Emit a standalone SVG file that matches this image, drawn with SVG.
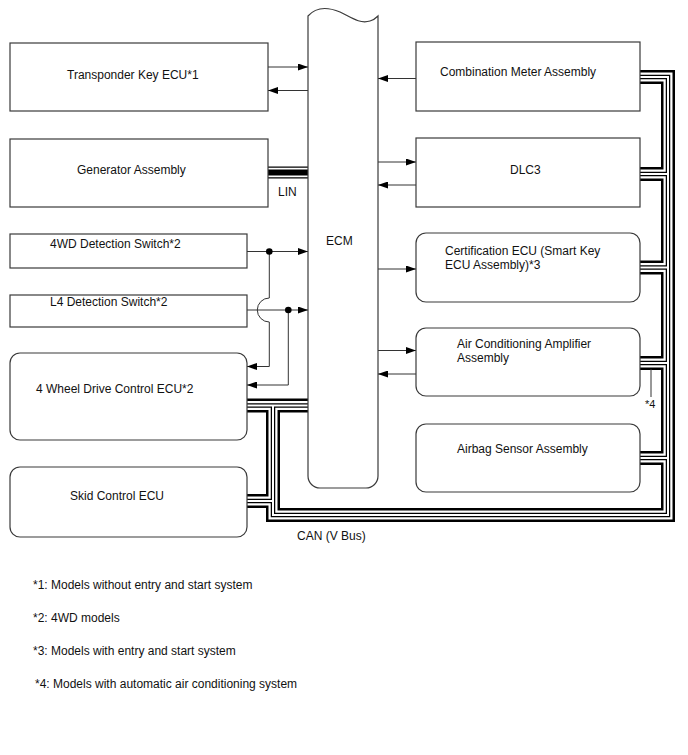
<svg xmlns="http://www.w3.org/2000/svg" xmlns:xlink="http://www.w3.org/1999/xlink" width="688" height="755" viewBox="0 0 688 755">
<style>
  .box { fill: #fff; stroke: #3a3a3a; stroke-width: 1.2; }
  .t { font-family: "Liberation Sans", Arial, sans-serif; font-size: 12px; fill: #111; }
  .ar { fill: none; stroke: #333; stroke-width: 1; marker-end: url(#ah); }
  .ln { fill: none; stroke: #333; stroke-width: 1; }
  .dot { fill: #000; }
</style>
<defs>
  <marker id="ah" markerUnits="userSpaceOnUse" markerWidth="10" markerHeight="7" refX="10" refY="3.5" orient="auto">
    <path d="M0,0 L10,3.5 L0,7 z" fill="#000"/>
  </marker>
  <g id="can" fill="none">
    <path d="M247,405.5 H308"/>
    <path d="M273,405.5 V515 H668 V77 H640"/>
    <path d="M247,501 H273"/>
    <path d="M640,174 H668"/>
    <path d="M640,267.5 H668"/>
    <path d="M640,363 H668"/>
    <path d="M640,458 H668"/>
  </g>
</defs>

<g id="connectors">
  <!-- CAN bus -->
  <use xlink:href="#can" stroke="#000" stroke-width="14" stroke-linejoin="miter"/>
  <use xlink:href="#can" stroke="#fff" stroke-width="9" stroke-linejoin="miter"/>
  <use xlink:href="#can" stroke="#000" stroke-width="4.5" stroke-linejoin="miter"/>
  <use xlink:href="#can" stroke="#fff" stroke-width="2" stroke-linejoin="miter"/>
  <!-- LIN -->
  <path d="M268,172.5 H308" stroke="#000" stroke-width="12" fill="none"/>
  <path d="M268,172.5 H308" stroke="#fff" stroke-width="9.5" fill="none"/>
  <path d="M268,172.5 H308" stroke="#000" stroke-width="6" fill="none"/>
  <!-- Transponder -->
  <path class="ar" d="M268,67 H308"/>
  <path class="ar" d="M308,90.5 H268"/>
  <!-- Combination meter -->
  <path class="ar" d="M416,78.5 H378"/>
  <!-- DLC3 -->
  <path class="ar" d="M378,162 H416"/>
  <path class="ar" d="M416,185 H378"/>
  <!-- Certification -->
  <path class="ar" d="M378,269 H416"/>
  <!-- A/C -->
  <path class="ar" d="M378,350.5 H416"/>
  <path class="ar" d="M416,374 H378"/>
  <!-- 4WD switch -->
  <path class="ar" d="M247,251.5 H308"/>
  <path class="ln" d="M269.3,251.5 V298 A12,12 0 0 0 269.3,322 V366.5"/>
  <path class="ar" d="M269.3,366.5 H247"/>
  <circle class="dot" cx="269.3" cy="251.5" r="3.3"/>
  <!-- L4 switch -->
  <path class="ar" d="M247,310 H308"/>
  <path class="ln" d="M288.3,310 V385"/>
  <path class="ar" d="M288.3,385 H247"/>
  <circle class="dot" cx="288.3" cy="310" r="3.3"/>
  <!-- *4 leader -->
  <path class="ln" d="M651,369 V397"/>
</g>

<g id="ecm">
  <path class="box" d="M308,16 C316,7 328,7 340,12 C352,18 360,24 370,21 C374,20 376,18 378,16 V476 A12,12 0 0 1 366,488 H320 A12,12 0 0 1 308,476 Z"/>
  <text class="t" x="326" y="245">ECM</text>
</g>

<g id="transponder">
  <rect class="box" x="10" y="43" width="258" height="68"/>
  <text class="t" x="67" y="79">Transponder Key ECU*1</text>
</g>
<g id="generator">
  <rect class="box" x="10" y="139" width="258" height="68"/>
  <text class="t" x="77" y="174">Generator Assembly</text>
</g>
<g id="sw4wd">
  <rect class="box" x="10" y="234" width="237" height="34"/>
  <text class="t" x="50" y="248">4WD Detection Switch*2</text>
</g>
<g id="swl4">
  <rect class="box" x="10" y="295" width="237" height="32"/>
  <text class="t" x="50" y="306">L4 Detection Switch*2</text>
</g>
<g id="ecu4wd">
  <rect class="box" x="10" y="353" width="237" height="87" rx="10" ry="10"/>
  <text class="t" x="36" y="393">4 Wheel Drive Control ECU*2</text>
</g>
<g id="skid">
  <rect class="box" x="10" y="467" width="237" height="70" rx="10" ry="10"/>
  <text class="t" x="70" y="500">Skid Control ECU</text>
</g>

<g id="combmeter">
  <rect class="box" x="416" y="42" width="224" height="69"/>
  <text class="t" x="440" y="76">Combination Meter Assembly</text>
</g>
<g id="dlc3">
  <rect class="box" x="416" y="138" width="224" height="69"/>
  <text class="t" x="510" y="174">DLC3</text>
</g>
<g id="cert">
  <rect class="box" x="416" y="233" width="224" height="69" rx="10" ry="10"/>
  <text class="t" x="445" y="255">Certification ECU (Smart Key</text>
  <text class="t" x="445" y="269">ECU Assembly)*3</text>
</g>
<g id="aircon">
  <rect class="box" x="416" y="328" width="224" height="68" rx="10" ry="10"/>
  <text class="t" x="457" y="348">Air Conditioning Amplifier</text>
  <text class="t" x="457" y="362">Assembly</text>
</g>
<g id="airbag">
  <rect class="box" x="416" y="424" width="224" height="68" rx="10" ry="10"/>
  <text class="t" x="457" y="453">Airbag Sensor Assembly</text>
</g>

<g id="labels">
  <text class="t" x="278" y="196">LIN</text>
  <text class="t" x="297" y="540">CAN (V Bus)</text>
  <text class="t" x="645" y="408" style="font-size:11px">*4</text>
  <text class="t" x="33" y="589">*1: Models without entry and start system</text>
  <text class="t" x="33" y="622">*2: 4WD models</text>
  <text class="t" x="33" y="655">*3: Models with entry and start system</text>
  <text class="t" x="35" y="688">*4: Models with automatic air conditioning system</text>
</g>
</svg>
